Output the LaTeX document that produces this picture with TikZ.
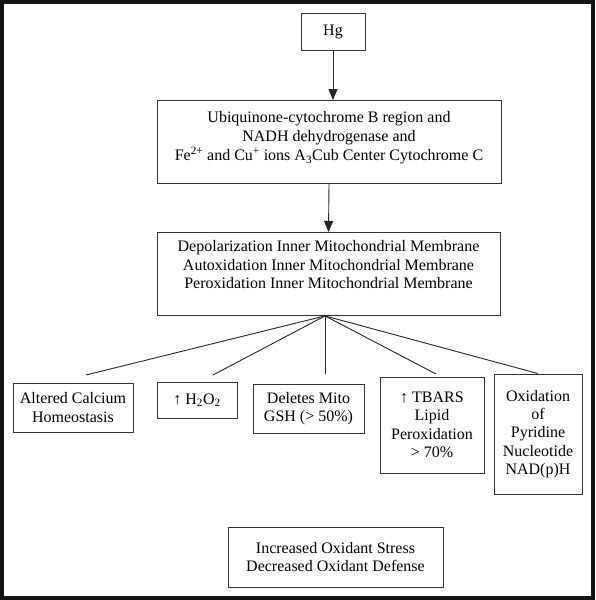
\documentclass[tikz,border=0pt]{standalone}
\usepackage{fontspec}
\setmainfont{Liberation Serif}
\usetikzlibrary{arrows.meta}
\tikzset{
    box/.style={draw=black!80, line width=0.9pt, text=black, align=center, inner sep=0pt,
        font=\fontsize{16}{18.4}\selectfont},
    flow/.style={draw=black!85, line width=0.9pt, -{Triangle[length=11pt,width=9pt]}},
    spoke/.style={draw=black!85, line width=0.9pt}
}
\begin{document}
\begin{tikzpicture}[x=1pt,y=-1pt]
            \useasboundingbox (0,0) rectangle (595,600);
            \draw[line width=3.6pt, black!92] (1.8,1.8) rectangle (593.2,598.2);

            \node[box, minimum width=64pt, minimum height=37pt] at (333,31.5) (Hg) {Hg};
            \node[box, minimum width=344pt, anchor=north, text height=60pt, text depth=23pt,
                font=\fontsize{16}{19}\selectfont] at (329,100) (Cyt) {Ubiquinone-cytochrome B region and\\NADH dehydrogenase and\\Fe\textsuperscript{2+} and Cu\textsuperscript{+} ions A\textsubscript{3}Cub Center Cytochrome C};
            \node[box, minimum width=343pt, anchor=north, text height=56pt, text depth=27pt] at (328.5,232) (Mem) {Depolarization Inner Mitochondrial Membrane\\Autoxidation Inner Mitochondrial Membrane\\Peroxidation Inner Mitochondrial Membrane};

            \node[box, minimum width=120pt, minimum height=49pt] at (73,407.5) (Ca) {Altered Calcium\\Homeostasis};
            \node[box, minimum width=80pt, minimum height=36pt] at (197,400) (HO) {↑ H\textsubscript{2}O\textsubscript{2}};
            \node[box, minimum width=111pt, minimum height=49pt] at (308.5,408.5) (GSH) {Deletes Mito\\GSH (> 50\%)};
            \node[box, minimum width=104pt, minimum height=96pt] at (432,425) (TB) {↑ TBARS\\Lipid\\Peroxidation\\> 70\%};
            \node[box, minimum width=88pt, minimum height=120pt] at (538,434) (NAD) {Oxidation\\of\\Pyridine\\Nucleotide\\NAD(p)H};

            \node[box, minimum width=215pt, minimum height=60pt] at (335.5,557) (Ox) {Increased Oxidant Stress\\Decreased Oxidant Defense};

            \draw[flow] (Hg.south) -- (Hg.south |- Cyt.north);
            \draw[flow] (Cyt.south) -- (Mem.north);

            % free ends above the effect boxes
            \coordinate (e1) at (86,375);
            \coordinate (e2) at (213,375);
            \coordinate (e3) at (325,374);
            \coordinate (e4) at (436,374);
            \draw[spoke] ([xshift=-3.5pt]Mem.south) -- (e1);
            \draw[spoke] ([xshift=-3.5pt]Mem.south) -- (e2);
            \draw[spoke] ([xshift=-3.5pt]Mem.south) -- (e3);
            \draw[spoke] ([xshift=-3.5pt]Mem.south) -- (e4);
            \draw[spoke] ([xshift=-3.5pt]Mem.south) -- (NAD.north);
        \end{tikzpicture}
\end{document}
